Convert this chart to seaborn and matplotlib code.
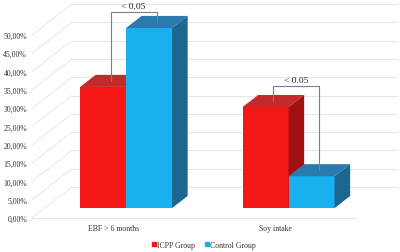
import pandas as pd
import matplotlib
matplotlib.use('Agg')
import matplotlib.pyplot as plt
import seaborn as sns
from matplotlib.patches import Polygon, Patch

# data
categories = ['EBF > 6 months', 'Soy intake']
groups = ['ICPP Group', 'Control Group']
icpp_values = [33.1, 27.6]
control_values = [49.2, 8.7]
p_labels = ['< 0.05', '< 0.05']
bracket_tops = [56.3, 36.1]
y_ticks = list(range(0, 55, 5))

df = pd.DataFrame({
    'category': categories * 2,
    'group': [groups[0]] * len(categories) + [groups[1]] * len(categories),
    'value': icpp_values + control_values,
})

front_colors = ['#f51616', '#19b0ef']
top_colors = ['#c42a2c', '#2a7aae']
side_colors = ['#a01212', '#1a6794']
grid_color = '#e2e2e2'

sns.set_theme(style='white')
plt.rcParams['font.family'] = ['Liberation Serif', 'DejaVu Serif']

fig = plt.figure(figsize=(4, 2.53), dpi=100)
ax = fig.add_axes([32 / 400, 34 / 253, 325 / 400, 183 / 253])
ax.set_xlim(-0.5, 1.5)
ax.set_ylim(0, 50)

# one pixel in data units, for the fake 3d depth
px = 2 / 325
py = 50 / 183


def depth(z):
    # z = 0 front of floor, z = 1 back wall
    return 40 * z * px, 31 * z * py


# walls and grid
bx, by = depth(1)
for v in y_ticks:
    ax.plot([-0.5, -0.5 + bx], [v, v + by], color=grid_color, lw=0.6,
            clip_on=False, zorder=0)
    ax.plot([-0.5 + bx, 1.5 + bx], [v + by, v + by], color=grid_color,
            lw=0.6, clip_on=False, zorder=0)
ax.plot([-0.5, 1.5], [0, 0], color=grid_color, lw=0.6, clip_on=False, zorder=0)

sns.barplot(data=df, x='category', y='value', hue='group',
            palette=front_colors, width=0.566, saturation=1,
            edgecolor='none', legend=False, ax=ax)

# front faces sit a bit into the floor, then add top and side faces
fx, fy = depth(0.32)
kx, ky = depth(0.71)
mx, my = depth(0.51)
bars = [(p, i // len(categories)) for i, p in enumerate(ax.patches)]
bars.sort(key=lambda t: t[0].get_x())
ends = []
for k, (p, g) in enumerate(bars):
    x0, w, h = p.get_x(), p.get_width(), p.get_height()
    z = 2 + k * 0.1
    p.set_x(x0 + fx)
    p.set_y(fy)
    p.set_zorder(z)
    p.set_clip_on(False)
    top = Polygon([(x0 + fx, h + fy), (x0 + fx + w, h + fy),
                   (x0 + kx + w, h + ky), (x0 + kx, h + ky)],
                  closed=True, facecolor=top_colors[g], edgecolor='none',
                  zorder=z, clip_on=False)
    side = Polygon([(x0 + fx + w, fy), (x0 + kx + w, ky),
                    (x0 + kx + w, h + ky), (x0 + fx + w, h + fy)],
                   closed=True, facecolor=side_colors[g], edgecolor='none',
                   zorder=z, clip_on=False)
    ax.add_patch(top)
    ax.add_patch(side)
    ends.append((x0 + w / 2 + mx, h + my))

# significance brackets
for i, lab in enumerate(p_labels):
    (xl, yl), (xr, yr) = ends[2 * i], ends[2 * i + 1]
    t = bracket_tops[i]
    ax.plot([xl, xl, xr, xr], [yl, t, t, yr], color='#7f7f7f', lw=0.8,
            clip_on=False, zorder=10)
    ax.text((xl + xr) / 2, t + 0.4, lab, ha='center', va='bottom',
            fontsize=6.8, color='#222222', zorder=10)

ax.set_yticks(y_ticks)
ax.set_yticklabels([f'{v:.2f}%'.replace('.', ',') for v in y_ticks])
ax.set_xlabel('')
ax.set_ylabel('')
ax.tick_params(axis='y', length=0, pad=3.6, labelsize=5.6, labelcolor='#333333')
ax.tick_params(axis='x', length=0, pad=4.3, labelsize=5.6, labelcolor='#333333')
for s in ax.spines.values():
    s.set_visible(False)

handles = [Patch(color=c) for c in front_colors]
fig.legend(handles, groups, loc='center', bbox_to_anchor=(204 / 400, 1 - 246 / 253),
           ncol=2, frameon=False, fontsize=5.6, handlelength=0.45,
           handleheight=0.45, handletextpad=0.2, columnspacing=1.3,
           labelcolor='#333333')

fig.savefig('out.png', dpi=100, facecolor='white')
